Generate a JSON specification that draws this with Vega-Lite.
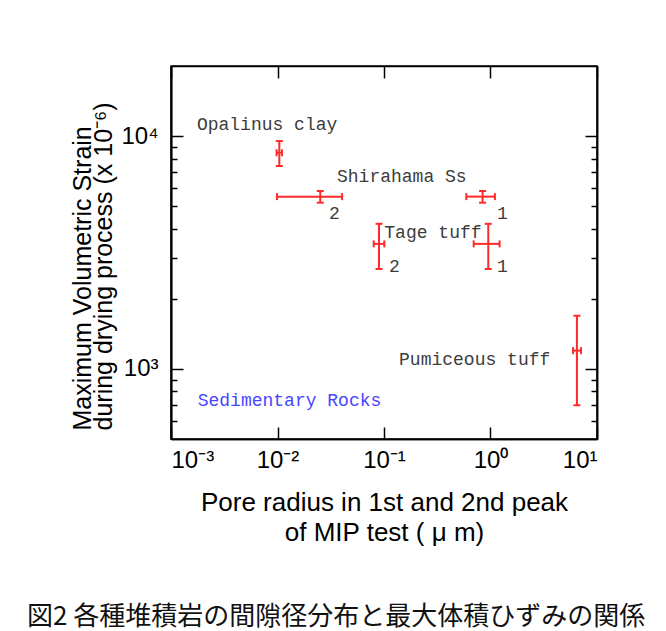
{
  "$schema": "https://vega.github.io/schema/vega-lite/v6.json",
  "width": 426,
  "height": 373,
  "autosize": {"type": "none"},
  "padding": {"left": 171, "top": 66, "right": 69, "bottom": 192},
  "background": "white",
  "title": {
    "text": "図2 各種堆積岩の間隙径分布と最大体積ひずみの関係",
    "orient": "bottom",
    "anchor": "start",
    "frame": "group",
    "font": "Noto Sans CJK JP",
    "fontSize": 26,
    "fontWeight": "normal",
    "color": "#111111",
    "dx": -144,
    "offset": 59
  },
  "data": {
    "values": [
      {"sample": "Opalinus clay", "x": 0.0104, "xlo": 0.0098, "xhi": 0.011, "y": 8480, "ylo": 7440, "yhi": 9520},
      {"sample": "Shirahama Ss 2", "x": 0.0252, "xlo": 0.0099, "xhi": 0.0404, "y": 5495, "ylo": 5175, "yhi": 5810},
      {"sample": "Shirahama Ss 1", "x": 0.843, "xlo": 0.593, "xhi": 1.10, "y": 5495, "ylo": 5175, "yhi": 5810},
      {"sample": "Tage tuff 2", "x": 0.0898, "xlo": 0.080, "xhi": 0.1007, "y": 3444, "ylo": 2686, "yhi": 4200},
      {"sample": "Tage tuff 1", "x": 0.953, "xlo": 0.695, "xhi": 1.218, "y": 3444, "ylo": 2686, "yhi": 4200},
      {"sample": "Pumiceous tuff", "x": 6.48, "xlo": 5.96, "xhi": 7.08, "y": 1198, "ylo": 698, "yhi": 1692},
      {"label": "Opalinus clay", "kind": "sample", "lx": 0.00175, "ly": 11150},
      {"label": "Shirahama Ss", "kind": "sample", "lx": 0.0362, "ly": 6650},
      {"label": "2", "kind": "sample", "lx": 0.0305, "ly": 4630},
      {"label": "1", "kind": "sample", "lx": 1.15, "ly": 4630},
      {"label": "Tage tuff", "kind": "sample", "lx": 0.1007, "ly": 3827},
      {"label": "2", "kind": "sample", "lx": 0.1114, "ly": 2735},
      {"label": "1", "kind": "sample", "lx": 1.15, "ly": 2735},
      {"label": "Pumiceous tuff", "kind": "sample", "lx": 0.1385, "ly": 1096},
      {"label": "Sedimentary Rocks", "kind": "note", "lx": 0.00178, "ly": 726}
    ]
  },
  "layer": [
    {
      "transform": [{"filter": {"field": "x", "valid": true}}],
      "mark": {"type": "rule", "color": "#ff2a2a", "strokeWidth": 2},
      "encoding": {
        "x": {
          "field": "xlo", "type": "quantitative",
          "scale": {"type": "log", "domain": [0.001, 10], "nice": false},
          "axis": {
            "orient": "bottom", "tickSize": 0, "tickOpacity": 0, "values": [0.001, 0.01, 0.1, 1, 10],
            "labelExpr": "datum.value < 0.005 ? '10⁻³' : datum.value < 0.05 ? '10⁻²' : datum.value < 0.5 ? '10⁻¹' : datum.value < 5 ? '10⁰' : '10¹'",
            "labelPadding": 9, "labelBaseline": "top",
            "title": ["Pore radius in 1st and 2nd peak", "of MIP test ( μ m)"],
            "titleFontSize": 26, "titleLineHeight": 30, "titleX": 213, "titleY": 71,
            "titleBaseline": "alphabetic", "titleAlign": "center"
          }
        },
        "x2": {"field": "xhi"},
        "y": {
          "field": "y", "type": "quantitative",
          "scale": {"type": "log", "domain": [500, 20000], "nice": false},
          "axis": {
            "orient": "left", "tickSize": 0, "tickOpacity": 0, "values": [1000, 10000],
            "labelExpr": "datum.value < 5000 ? '10³' : '10⁴'",
            "labelPadding": 13,
            "title": ["Maximum Volumetric Strain", "during drying process (x 10⁻⁶)"],
            "titleFontSize": 25, "titleLineHeight": 21, "titleAngle": -90,
            "titleX": -101, "titleY": 364, "titleAlign": "left", "titleBaseline": "top"
          }
        }
      }
    },
    {
      "transform": [{"filter": {"field": "x", "valid": true}}],
      "mark": {"type": "rule", "color": "#ff2a2a", "strokeWidth": 2},
      "encoding": {
        "x": {
          "field": "x", "type": "quantitative",
          "axis": {"orient": "top", "labels": false, "title": null, "values": [0.001, 0.01, 0.1, 1, 10], "tickSize": -12, "zindex": 1}
        },
        "y": {
          "field": "ylo", "type": "quantitative",
          "axis": {"orient": "right", "labels": false, "title": null, "values": [1000, 10000], "tickSize": -12, "zindex": 1}
        },
        "y2": {"field": "yhi"}
      }
    },
    {
      "transform": [{"filter": {"field": "x", "valid": true}}],
      "mark": {"type": "point", "shape": "M0,-1L0,1", "size": 49, "filled": false, "stroke": "#ff2a2a", "strokeWidth": 2, "opacity": 1},
      "encoding": {
        "x": {
          "field": "xlo", "type": "quantitative",
          "axis": {"orient": "bottom", "labels": false, "title": null, "values": [0.001, 0.01, 0.1, 1, 10], "tickSize": -12, "zindex": 1}
        },
        "y": {
          "field": "y", "type": "quantitative",
          "axis": {"orient": "left", "labels": false, "title": null, "values": [1000, 10000], "tickSize": -12, "zindex": 1}
        }
      }
    },
    {
      "transform": [{"filter": {"field": "x", "valid": true}}],
      "mark": {"type": "point", "shape": "M0,-1L0,1", "size": 49, "filled": false, "stroke": "#ff2a2a", "strokeWidth": 2, "opacity": 1},
      "encoding": {
        "x": {"field": "xhi", "type": "quantitative", "axis": null},
        "y": {
          "field": "y", "type": "quantitative",
          "axis": {"orient": "left", "labels": false, "title": null, "values": [600, 700, 800, 900, 2000, 3000, 4000, 5000, 6000, 7000, 8000, 9000], "tickSize": -6, "zindex": 1}
        }
      }
    },
    {
      "transform": [{"filter": {"field": "x", "valid": true}}],
      "mark": {"type": "point", "shape": "M-1,0L1,0", "size": 49, "filled": false, "stroke": "#ff2a2a", "strokeWidth": 2, "opacity": 1},
      "encoding": {
        "x": {"field": "x", "type": "quantitative", "axis": null},
        "y": {
          "field": "ylo", "type": "quantitative",
          "axis": {"orient": "right", "labels": false, "title": null, "values": [600, 700, 800, 900, 2000, 3000, 4000, 5000, 6000, 7000, 8000, 9000], "tickSize": -6, "zindex": 1}
        }
      }
    },
    {
      "transform": [{"filter": {"field": "x", "valid": true}}],
      "mark": {"type": "point", "shape": "M-1,0L1,0", "size": 49, "filled": false, "stroke": "#ff2a2a", "strokeWidth": 2, "opacity": 1},
      "encoding": {
        "x": {"field": "x", "type": "quantitative", "axis": null},
        "y": {"field": "yhi", "type": "quantitative", "axis": null}
      }
    },
    {
      "transform": [{"filter": {"field": "lx", "valid": true}}],
      "mark": {"type": "text", "font": "Liberation Mono", "fontSize": 18, "align": "left", "baseline": "middle"},
      "encoding": {
        "x": {"field": "lx", "type": "quantitative", "axis": null},
        "y": {"field": "ly", "type": "quantitative", "axis": null},
        "text": {"field": "label"},
        "color": {"field": "kind", "type": "nominal", "scale": {"domain": ["sample", "note"], "range": ["#3c3c3c", "#4646ff"]}, "legend": null}
      }
    }
  ],
  "resolve": {"axis": {"x": "independent", "y": "independent"}},
  "config": {
    "view": {"stroke": "black", "strokeWidth": 1.5},
    "axis": {
      "gridOpacity": 0,
      "domainColor": "black", "domainWidth": 1.5,
      "tickColor": "black", "tickWidth": 1.5,
      "labelFont": "Liberation Sans", "labelFontSize": 24, "labelColor": "black",
      "titleFont": "Liberation Sans", "titleFontWeight": "normal", "titleColor": "black"
    }
  }
}
